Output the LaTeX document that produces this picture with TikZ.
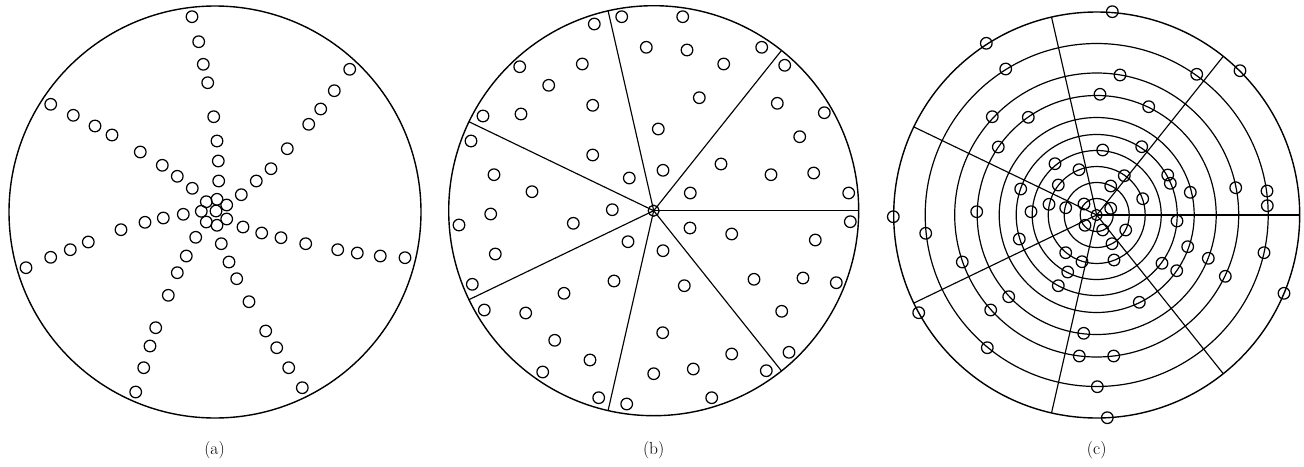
\documentclass[tikz,border=0pt]{standalone}
\usepackage{fontspec}
\usepackage{tikz}
\usetikzlibrary{calc}

\begin{document}
\begin{tikzpicture}[x=1pt, y=-1pt, line width=1.2pt,
    hole/.style={line width=1.25pt},
    rim/.style={line width=1.4pt},
    spoke/.style={line width=1.15pt},
    ring/.style={line width=1.2pt},
    lbl/.style={font=\fontsize{17.5}{20}\selectfont}]
    \useasboundingbox (0,0) rectangle (1304,466);

    % (a) seven arms of holes
    \coordinate (ca) at (215,212);
    \draw[rim] (ca) circle (206pt);
    \foreach \x/\y in {192.0/16.7, 198.7/41.7, 203.3/64.3, 207.7/82.7, 213.7/116.7, 217.0/141.0, 218.3/161.0, 218.7/181.0,
        349.7/69.3, 334.3/90.7, 320.7/109.0, 308.7/124.3, 287.3/148.7, 271.0/168.7, 256.3/181.0, 241.3/194.7,
        50.7/104.3, 73.3/115.3, 95.0/126.0, 112.0/135.0, 140.3/152.0, 162.3/165.3, 177.3/176.3, 192.3/188.3,
        26.0/267.7, 50.7/257.3, 70.3/249.7, 88.3/242.0, 121.0/229.7, 145.0/222.3, 163.3/218.0, 183.3/214.3,
        405.0/257.7, 380.3/256.0, 357.3/253.0, 337.7/249.7, 305.7/243.7, 281.0/237.7, 261.7/233.0, 243.0/227.0,
        135.7/392.0, 143.7/367.7, 150.0/346.0, 155.7/327.7, 168.3/295.3, 177.3/272.7, 186.3/256.0, 195.7/237.3,
        302.3/387.7, 288.7/367.7, 276.7/347.7, 265.7/331.0, 249.0/301.7, 236.7/278.7, 229.0/262.0, 221.3/243.7,
        216/211, 217/199.3, 226.7/205, 226.7/219, 217/225.3, 206.3/222, 201.3/211.3, 206.3/201.7}
        \draw[hole] (\x,\y) circle (5.8pt);
    \node[lbl] (la) at (214.5,450) {(a)};

    % (b) seven sectors
    \coordinate (cb) at (653.7,210.7);
    \draw[rim] (cb) circle (205pt);
    \foreach \k in {0,...,6}
        \draw[spoke] (cb) -- ++(\k*360/7:205pt);
    \draw[hole] (cb) circle (5.5pt);
    \foreach \x/\y in {621.7/16.7, 682.7/16.7, 594.3/24.0, 646.3/47.3, 687.0/50.0, 761.7/47.3, 723.7/64.0, 784.7/65.3,
        582.3/64.0, 519.7/66.7, 548.7/85.3, 699.3/97.7, 777.3/103.3, 824.3/112.7, 592.7/105.3, 521.0/114.0,
        483.0/116.0, 658.3/129.0, 799.7/136.7, 471.0/141.0, 592.7/155.0, 721.0/164.0, 771.0/174.7, 813.7/173.0,
        663.0/170.3, 629.3/178.0, 494.0/174.7, 532.0/191.7, 690.3/193.0, 848.7/193.0, 612.3/209.7, 490.7/214.0,
        459.0/225.0, 573.3/223.3, 690.0/228.0, 731.7/234.0, 850.3/221.7, 815.3/240.0, 628.0/241.7, 663.0/250.7,
        495.3/254.0, 614.0/281.0, 684.3/285.7, 754.0/279.3, 803.0/278.0, 836.3/282.7, 472.3/284.3, 564.0/293.3,
        484.3/310.0, 525.7/313.0, 781.7/311.3, 554.7/340.3, 662.7/332.7, 789.0/352.3, 590.0/360.0, 731.7/354.0,
        653.7/373.7, 693.3/369.0, 766.3/370.7, 542.7/372.0, 598.7/397.7, 626.7/404.0, 711.7/397.7}
        \draw[hole] (\x,\y) circle (5.8pt);
    \node[lbl] (lb) at (653.7,450) {(b)};

    % (c) sectors and rings
    \coordinate (cc) at (1096.7,215);
    \draw[rim] (cc) circle (203pt);
    \foreach \r in {16.5, 32.5, 48.5, 64.5, 80.5, 97.5, 119.5, 142, 171.5}
        \draw[ring] (cc) circle (\r pt);
    \foreach \k in {0,...,6}
        \draw[spoke] (cc) -- ++(\k*360/7:203pt);
    \draw[hole] (cc) circle (5.5pt);
    \foreach \x/\y in {1112.3/11.7, 986.3/43.3, 1005.7/69.0, 1120.0/75.0, 1196.7/74.3, 1240.0/70.7, 1100.0/94.3, 1148.7/106.7,
        992.3/116.7, 1028.3/117.3, 998.3/147.0, 1102.7/150.0, 1141.7/146.7, 1055.0/163.7, 1079.0/169.7, 1124.3/175.7,
        1167.7/175.0, 1170.3/183.3, 1058.3/185.0, 1110.7/186.0, 1020.7/189.0, 1190.3/192.3, 1235.7/187.7, 1267.0/191.0,
        1267.3/205.7, 1142.7/198.7, 1049.0/204.3, 1065.7/207.7, 1084.0/204.0, 1110.7/208.3, 976.7/211.7, 1031.0/211.7,
        893.3/216.7, 1177.0/221.0, 925.7/233.3, 1085.0/225.3, 1102.7/230.0, 1125.7/230.0, 1019.3/239.0, 1112.0/243.7,
        1187.7/246.7, 1065.7/252.7, 1082.0/261.7, 1114.0/260.0, 962.3/262.0, 1162.0/263.3, 1176.7/270.7, 1208.3/258.3,
        1264.0/252.7, 1067.7/272.0, 1225.3/276.3, 1058.3/285.7, 1284.0/293.3, 1008.7/296.7, 1139.3/302.3, 918.7/312.7,
        990.7/310.0, 1083.7/333.3, 987.3/347.7, 1079.3/356.0, 1113.7/356.0, 1097.3/386.7, 1107.3/417.7}
        \draw[hole] (\x,\y) circle (5.8pt);
    \node[lbl] (lc) at (1096.7,450) {(c)};
\end{tikzpicture}
\end{document}
